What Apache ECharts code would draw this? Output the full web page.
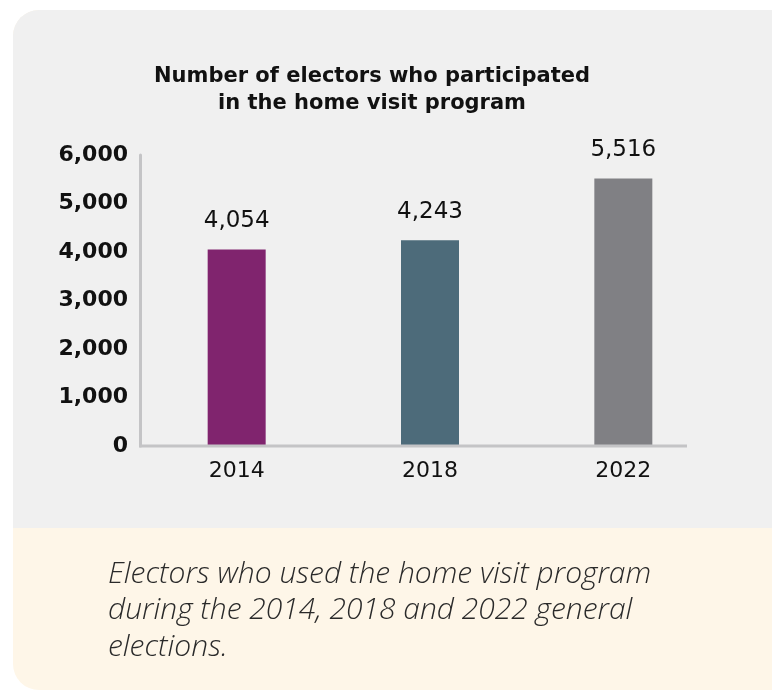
<!DOCTYPE html>
<html>
<head>
<meta charset="utf-8">
<script src="https://cdn.jsdelivr.net/npm/echarts@6/dist/echarts.min.js"></script>
<style>
  html, body { margin: 0; padding: 0; background: #ffffff; }
  #chart { width: 772px; height: 691px; }
</style>
</head>
<body>
<div id="chart"></div>
<script>
// Election years and number of electors served by home visits
const years = ['2014', '2018', '2022'];
const electors = [4054, 4243, 5516];
const barColors = ['#80246e', '#4d6b7a', '#808084'];
const yTicks = [0, 1000, 2000, 3000, 4000, 5000, 6000];

const titleLines = ['Number of electors who participated', 'in the home visit program'];
const captionLines = [
  'Electors who used the home visit program',
  'during the 2014, 2018 and 2022 general',
  'elections.'
];

const fmt = v => v.toLocaleString('en-US');
const font = '"DejaVu Sans", "Noto Sans", sans-serif';

const chart = echarts.init(document.getElementById('chart'), null, { renderer: 'canvas' });

chart.setOption({
  animation: false,
  backgroundColor: '#ffffff',
  title: {
    text: titleLines.join('\n'),
    left: 367,
    textAlign: 'center',
    top: 58,
    textStyle: { fontFamily: font, fontWeight: 'bold', fontSize: 21, lineHeight: 27, color: '#111' }
  },
  grid: { left: 140, top: 155, width: 580, height: 291, containLabel: false },
  xAxis: {
    type: 'category',
    data: years,
    axisLine: { show: false },
    axisTick: { show: false },
    axisLabel: { fontFamily: font, fontSize: 22, color: '#111', margin: 14 }
  },
  yAxis: {
    type: 'value',
    min: yTicks[0],
    max: yTicks[yTicks.length - 1],
    interval: 1000,
    axisLine: { show: true, lineStyle: { color: '#c4c4c6', width: 3 } },
    axisTick: { show: false },
    splitLine: { show: false },
    axisLabel: {
      fontFamily: font, fontSize: 22, fontWeight: 'bold', color: '#111', margin: 12,
      formatter: v => fmt(v)
    }
  },
  series: [{
    type: 'bar',
    barWidth: 58,
    data: electors.map((v, i) => ({ value: v, itemStyle: { color: barColors[i] } })),
    label: {
      show: true, position: 'top', distance: 17,
      fontFamily: font, fontSize: 23, color: '#111',
      formatter: p => fmt(p.value)
    }
  }],
  graphic: [
    // panel backgrounds
    { type: 'rect', z: -10, shape: { x: 13, y: 10, width: 800, height: 680, r: 26 }, style: { fill: '#fef6e8' } },
    { type: 'rect', z: -9, shape: { x: 13, y: 10, width: 800, height: 518, r: [26, 0, 0, 0] }, style: { fill: '#f0f0f0' } },
    // baseline under the bars
    { type: 'line', z: 5, shape: { x1: 139, y1: 446, x2: 687, y2: 446 }, style: { stroke: '#c4c4c6', lineWidth: 3 } },
    // caption
    {
      type: 'text', left: 108, top: 556,
      style: {
        text: captionLines.join('\n'),
        font: 'italic 300 30px "Open Sans", Lato, sans-serif',
        lineHeight: 36.5, fill: '#2a2a2a'
      }
    }
  ]
});
</script>
</body>
</html>
